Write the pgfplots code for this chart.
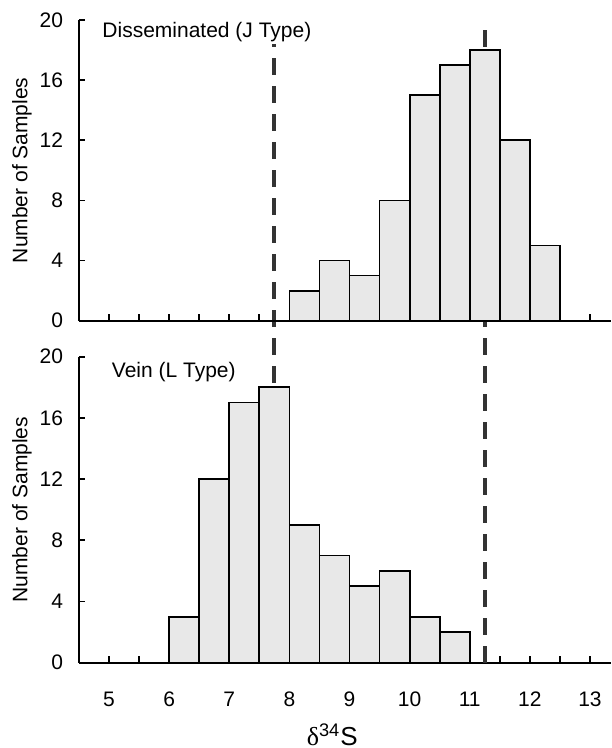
\documentclass[border=0pt]{standalone}
\usepackage{pgfplots}
\pgfplotsset{compat=1.18}
\usepackage{fontspec}
\setmainfont{Liberation Sans}
\newfontfamily\grk{Liberation Serif}
\definecolor{barfill}{RGB}{232,232,232}
\definecolor{dashcol}{RGB}{51,51,51}

\pgfplotsset{
  hist/.style={
    width=266pt, scale only axis,
    xmin=4.5, xmax=13.35, ymin=0, ymax=20,
    axis x line=bottom, axis y line=left,
    axis line style={line width=1pt, -},
    tick style={line width=0.9pt, black},
    tick align=inside,
    major tick length=3.2pt, minor tick length=3.2pt,
    xtick={5,...,13}, minor xtick={5.5,6.5,...,12.5},
    ytick={0,4,...,20},
    tick label style={font=\fontsize{10.5}{12}\selectfont},
    yticklabel style={xshift=-4.5pt},
    xticklabel style={yshift=-11pt},
    /pgf/number format/assume math mode=true,
    clip=false,
    ylabel={Number of Samples},
    every axis y label/.style={at={(axis description cs:0,0.5)}, xshift=-28.5pt,
      rotate=90, anchor=center, font=\fontsize{10.5}{12}\selectfont},
  },
  bars/.style={ybar interval, fill=barfill, draw=black, line width=0.9pt},
  refline/.style={dashcol, line width=1.9pt, dash pattern=on 8.5pt off 5.5pt},
}

\begin{document}
\begin{tikzpicture}
% Vein (L type), lower panel
\begin{axis}[hist, height=153pt, at={(0,0)},
    xlabel={{\grk δ}\textsuperscript{34}S},
    xlabel style={at={(axis description cs:0.476,0)}, yshift=-36pt,
      anchor=center, font=\fontsize{13}{14}\selectfont}]
  % dashed reference lines run up through both panels
  \addplot[refline] coordinates {(7.75,0) (7.75,41.7)};
  \addplot[refline] coordinates {(11.25,0) (11.25,41.7)};
  \addplot[bars] coordinates {
    (6,3) (6.5,12) (7,17) (7.5,18) (8,9) (8.5,7)
    (9,5) (9.5,6) (10,3) (10.5,2) (11,0)
  };
  \node[anchor=west, font=\fontsize{10.5}{12}\selectfont] at (axis cs:4.93,19.0) {Vein (L Type)};
\end{axis}

% Disseminated (J type), upper panel
\begin{axis}[hist, height=150.35pt, at={(0,171pt)}, xticklabels=\empty]
  \addplot[bars] coordinates {
    (8,2) (8.5,4) (9,3) (9.5,8) (10,15) (10.5,17)
    (11,18) (11.5,12) (12,5) (12.5,0)
  };
  \node[anchor=west, fill=white, inner sep=1pt, font=\fontsize{10.5}{12}\selectfont]
    at (axis cs:4.85,19.2) {Disseminated (J Type)};
\end{axis}

\pgfresetboundingbox
\useasboundingbox (-39.5pt,-42.65pt) rectangle (266pt,331.35pt);
\end{tikzpicture}
\end{document}
